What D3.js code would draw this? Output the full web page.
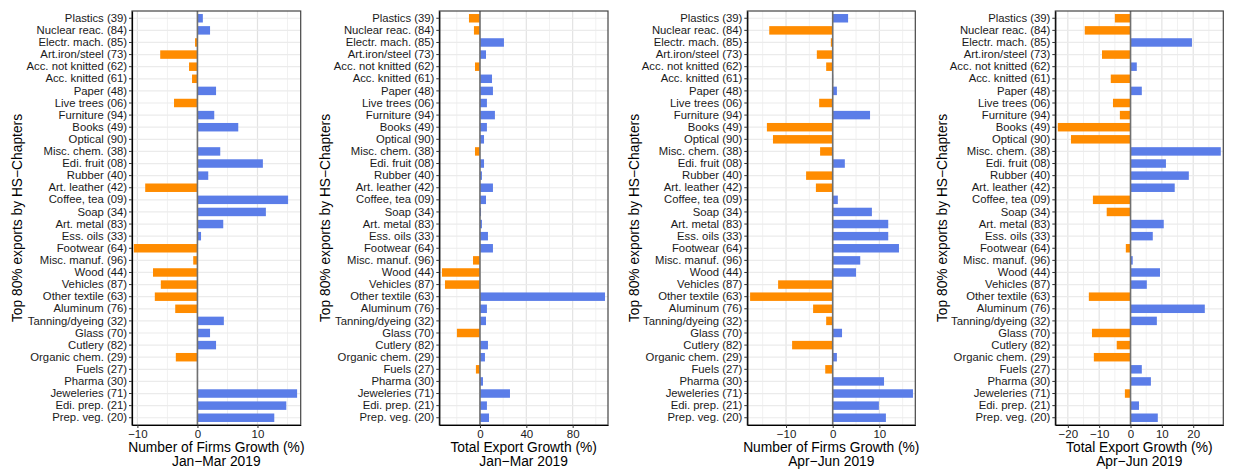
<!DOCTYPE html>
<html>
<head>
<meta charset="utf-8">
<script src="https://cdn.jsdelivr.net/npm/d3@7"></script>
<style>
  body { margin: 0; background: #fff; }
  svg text { font-family: "Liberation Sans", Arial, Helvetica, sans-serif; }
</style>
</head>
<body>
<div id="chart"></div>
<script>
(function(){
"use strict"
//---HS chapter growth, four panels---

var categories = ["Plastics (39)","Nuclear reac. (84)","Electr. mach. (85)","Art.iron/steel (73)",
	"Acc. not knitted (62)","Acc. knitted (61)","Paper (48)","Live trees (06)","Furniture (94)",
	"Books (49)","Optical (90)","Misc. chem. (38)","Edi. fruit (08)","Rubber (40)","Art. leather (42)",
	"Coffee, tea (09)","Soap (34)","Art. metal (83)","Ess. oils (33)","Footwear (64)","Misc. manuf. (96)",
	"Wood (44)","Vehicles (87)","Other textile (63)","Aluminum (76)","Tanning/dyeing (32)","Glass (70)",
	"Cutlery (82)","Organic chem. (29)","Fuels (27)","Pharma (30)","Jeweleries (71)","Edi. prep. (21)",
	"Prep. veg. (20)"];

//values, same order as categories
var firmsJanMar = [0.9,2.1,-0.4,-6.2,-1.4,-0.9,3.1,-3.9,2.8,6.8,0.1,3.8,10.9,1.8,-8.7,
	15.1,11.4,4.3,0.6,-10.6,-0.7,-7.4,-6.1,-7.1,-3.7,4.4,2.1,3.1,-3.6,0.1,0.1,16.6,14.8,12.8];
var exportsJanMar = [-9.5,-5.2,20.7,5.2,-4.3,10.4,11.2,6.0,12.9,6.0,3.5,-4.3,3.5,1.7,11.2,
	5.2,0.9,1.7,6.9,11.2,-6.0,-32.8,-30.2,107.9,6.0,5.2,-19.9,6.9,4.3,-3.5,2.6,25.9,6.0,7.8];
var firmsAprJun = [3.3,-13.6,-0.4,-3.4,-1.4,0.1,0.9,-2.9,8.0,-14.1,-12.8,-2.7,2.6,-5.7,-3.6,
	1.1,8.4,11.9,11.9,14.2,5.9,5.0,-11.7,-17.7,-4.2,-1.4,2.0,-8.7,0.9,-1.6,11.0,17.2,9.9,11.4];
var exportsAprJun = [-5.0,-14.6,19.6,-9.1,2.0,-6.3,3.6,-5.6,-3.4,-23.2,-19.0,28.8,11.3,18.6,14.1,
	-12.0,-7.6,10.6,7.1,-1.5,0.7,9.4,5.2,-13.3,23.7,8.4,-12.3,-4.4,-11.7,3.6,6.5,-1.8,2.7,8.7];

var ticksP1 = [-10,0,10],        minorP1 = [-5,5,15];
var ticksP2 = [0,40,80],         minorP2 = [-20,20,60,100];
var ticksP3 = [-10,0,10],        minorP3 = [-15,-5,5,15];
var ticksP4 = [-20,-10,0,10,20], minorP4 = [-15,-5,5,15,25];

var xTitles = ["Number of Firms Growth (%)","Total Export Growth (%)","Number of Firms Growth (%)","Total Export Growth (%)"];
var periods = ["Jan\u2212Mar 2019","Jan\u2212Mar 2019","Apr\u2212Jun 2019","Apr\u2212Jun 2019"];
var yTitle = "Top 80% exports by HS\u2212Chapters";

var width = 1235, height = 470,
	top = 11, bottom = 425,
	blue = "#5b7de8", orange = "#ff8c00";

var panels = [
	{vals:firmsJanMar,   x0:132,    x1:300.7,  dom:[-10.9,17.2], ticks:ticksP1, minor:minorP1, ty:16.5},
	{vals:exportsJanMar, x0:439.3,  x1:608,    dom:[-35.1,110.5],ticks:ticksP2, minor:minorP2, ty:325},
	{vals:firmsAprJun,   x0:747.3,  x1:915.3,  dom:[-18.3,17.7], ticks:ticksP3, minor:minorP3, ty:633.5},
	{vals:exportsAprJun, x0:1055.3, x1:1223.3, dom:[-24,29.6],   ticks:ticksP4, minor:minorP4, ty:941.5}
];

var fmt = function(d){ return d < 0 ? "\u2212" + Math.abs(d) : String(d); };

var svg = d3.select('#chart').append('svg')
	.attr('width',width)
	.attr('height',height);

var y = d3.scaleBand()
	.domain(categories)
	.range([top,bottom])
	.paddingInner(0.3)
	.paddingOuter(0.25);

panels.forEach(function(p,k){
	var x = d3.scaleLinear().domain(p.dom).range([p.x0,p.x1]);
	var g = svg.append('g');

	//grid
	g.selectAll('line.minor').data(p.minor).enter().append('line')
		.attr('x1',function(d){return x(d);}).attr('x2',function(d){return x(d);})
		.attr('y1',top).attr('y2',bottom)
		.style('stroke','#f1f1f1').style('stroke-width',1);
	g.selectAll('line.major').data(p.ticks).enter().append('line')
		.attr('x1',function(d){return x(d);}).attr('x2',function(d){return x(d);})
		.attr('y1',top).attr('y2',bottom)
		.style('stroke','#e3e3e3').style('stroke-width',1.2);
	g.selectAll('line.hgrid').data(categories).enter().append('line')
		.attr('x1',p.x0).attr('x2',p.x1)
		.attr('y1',function(d){return y(d)+y.bandwidth()/2;})
		.attr('y2',function(d){return y(d)+y.bandwidth()/2;})
		.style('stroke','#ebebeb').style('stroke-width',1.2);

	//bars
	g.selectAll('rect.bar').data(p.vals).enter().append('rect')
		.attr('x',function(d){return x(Math.min(0,d));})
		.attr('width',function(d){return Math.abs(x(d)-x(0));})
		.attr('y',function(d,i){return y(categories[i]);})
		.attr('height',y.bandwidth())
		.style('fill',function(d){return d < 0 ? orange : blue;});

	//zero line
	g.append('line')
		.attr('x1',x(0)).attr('x2',x(0))
		.attr('y1',top).attr('y2',bottom)
		.style('stroke','#707070').style('stroke-width',1.6);

	//frame
	g.append('rect')
		.attr('x',p.x0).attr('y',top)
		.attr('width',p.x1-p.x0).attr('height',bottom-top)
		.style('fill','none').style('stroke','#444').style('stroke-width',1.2);

	//axes
	var ax = g.append('g')
		.attr('transform','translate(0,'+bottom+')')
		.call(d3.axisBottom(x).tickValues(p.ticks).tickFormat(fmt).tickSize(3).tickPadding(2).tickSizeOuter(0));
	var ay = g.append('g')
		.attr('transform','translate('+p.x0+',0)')
		.call(d3.axisLeft(y).tickSize(3).tickPadding(2).tickSizeOuter(0));
	[ax,ay].forEach(function(a){
		a.select('.domain').style('stroke','#000').style('stroke-width',1.2);
		a.selectAll('.tick line').style('stroke','#333');
		a.selectAll('.tick text').style('fill','#1a1a1a').style('font-size','11.3px')
			.style('font-family','"Liberation Sans", Arial, sans-serif');
	});
	ax.selectAll('.tick text').style('font-size','11.5px');

	//titles
	var cx = (p.x0+p.x1)/2;
	g.append('text').attr('x',cx).attr('y',451.5)
		.attr('text-anchor','middle').style('font-size','13.8px').style('fill','#000')
		.text(xTitles[k]);
	g.append('text').attr('x',cx).attr('y',466)
		.attr('text-anchor','middle').style('font-size','13.8px').style('fill','#000')
		.text(periods[k]);
	g.append('text')
		.attr('transform','translate('+(p.ty+5)+','+((top+bottom)/2)+') rotate(-90)')
		.attr('text-anchor','middle').style('font-size','13.8px').style('fill','#000')
		.text(yTitle);
});

})();
</script>
</body>
</html>
